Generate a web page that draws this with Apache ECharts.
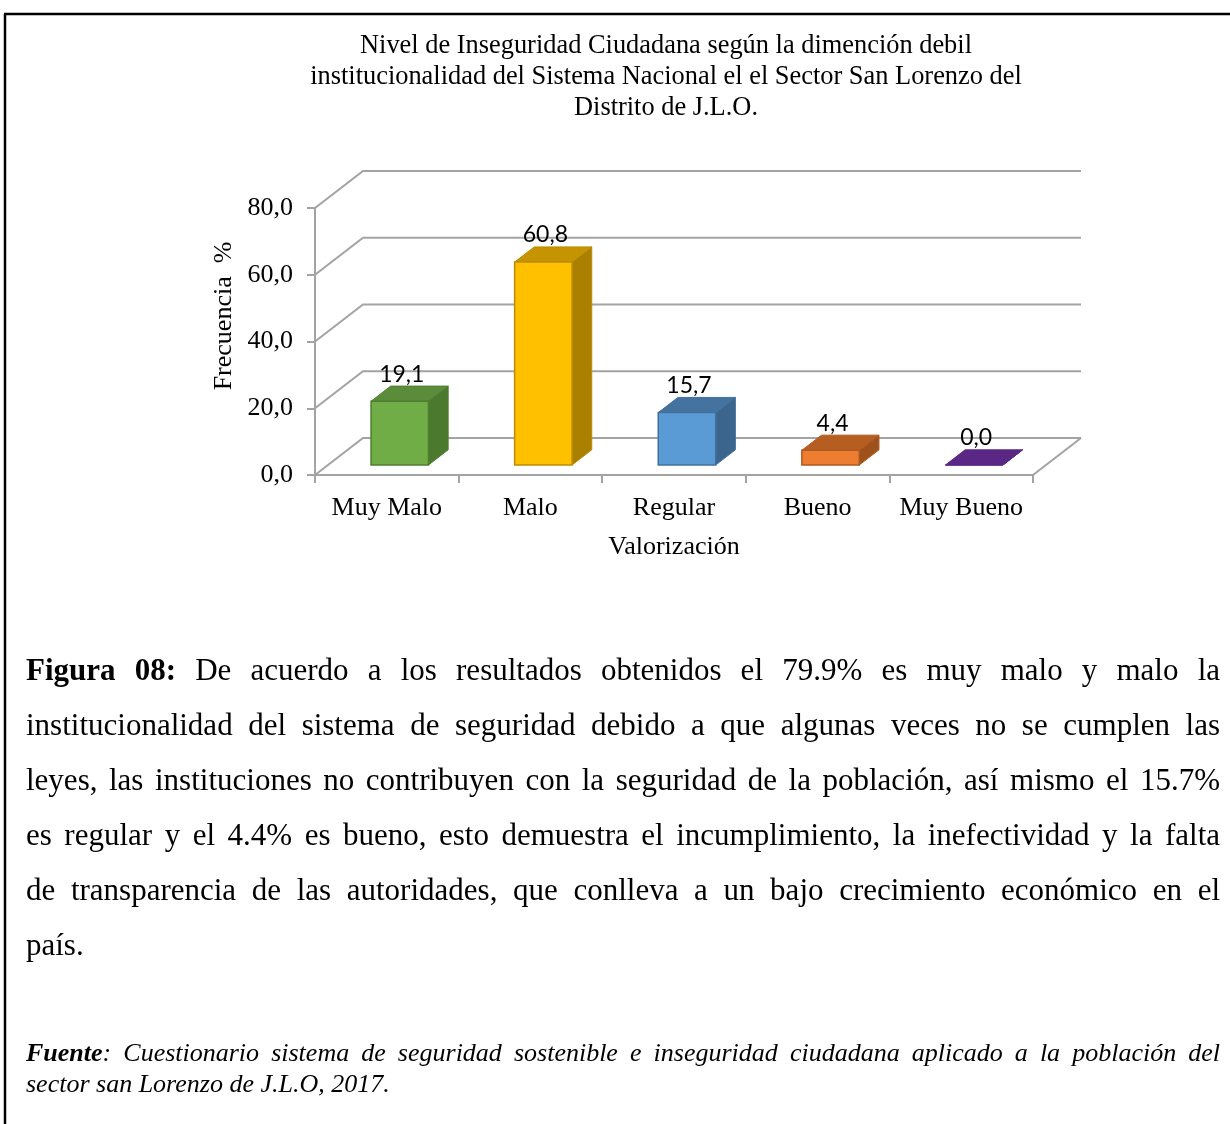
<!DOCTYPE html>
<html><head><meta charset="utf-8">
<script src="https://cdn.jsdelivr.net/npm/echarts@6/dist/echarts.min.js"></script>
<style>html,body{margin:0;padding:0;background:#fff}#c{width:1230px;height:1124px}</style>
</head><body><div id="c"></div>
<script>
// ---- data ----
const categories = ['Muy Malo', 'Malo', 'Regular', 'Bueno', 'Muy Bueno'];
const values = [19.1, 60.8, 15.7, 4.4, 0.0];
const yTicks = [0, 20, 40, 60, 80];
const titleLines = [
  'Nivel de Inseguridad Ciudadana según la dimención debil',
  'institucionalidad del Sistema Nacional el el Sector San Lorenzo del',
  'Distrito de J.L.O.'
];
const yAxisName = 'Frecuencia  %';
const xAxisName = 'Valorización';
const paragraphLines = [
  '**Figura 08:** De acuerdo a los resultados obtenidos el 79.9% es muy malo y malo la',
  'institucionalidad del sistema de seguridad debido a que algunas veces no se cumplen las',
  'leyes, las instituciones no contribuyen con la seguridad de la población, así mismo el 15.7%',
  'es regular y el 4.4% es bueno, esto demuestra el incumplimiento, la inefectividad y la falta',
  'de transparencia de las autoridades, que conlleva a un bajo crecimiento económico en el',
  'país.'
];
const sourceLines = [
  '**Fuente**: Cuestionario sistema de seguridad sostenible e inseguridad ciudadana aplicado a la población del',
  'sector san Lorenzo de J.L.O, 2017.'
];

// ---- styles ----
const SERIF = '"Liberation Serif", "Times New Roman", serif';
const SANS = 'Lato, "Liberation Sans", sans-serif';
const GRID = '#a3a3a3';
const DX = 48, DY = -37;       // depth projection of the 3D box
const Z0 = 0.27, Z1 = 0.68;    // bar depth range
const faceColors = ['#70ad47', '#ffc000', '#5b9bd5', '#ed7d31', '#7030a0'];
const topColors  = ['#5a8c39', '#c59400', '#44739f', '#b65d22', '#5a2785'];
const sideColors = ['#4b7a2e', '#a98000', '#3b658d', '#9f511c', '#4c1f70'];
const edgeColors = ['#507e32', '#bc8c00', '#41719c', '#ae5a21', '#5a2785'];

const fmt = v => v.toFixed(1).replace('.', ',');

// ---- justified text helper ----
const ctx = document.createElement('canvas').getContext('2d');
function fontStr(italic, bold, size) {
  return (italic ? 'italic ' : '') + (bold ? 'bold ' : '') + size + 'px ' + SERIF;
}
function layoutLine(line, y, x0, x1, size, italic, justify, out) {
  const words = []; let bold = false, cur = [], buf = '';
  const flush = () => { if (buf) { cur.push({ t: buf, b: bold }); buf = ''; } };
  for (let k = 0; k < line.length; k++) {
    if (line.substr(k, 2) === '**') { flush(); bold = !bold; k++; continue; }
    const ch = line[k];
    if (ch === ' ') { flush(); if (cur.length) { words.push(cur); cur = []; } continue; }
    buf += ch;
  }
  flush(); if (cur.length) words.push(cur);
  let total = 0;
  words.forEach(w => {
    w.width = 0;
    w.forEach(p => { ctx.font = fontStr(italic, p.b, size); p.w = ctx.measureText(p.t).width; w.width += p.w; });
    total += w.width;
  });
  ctx.font = fontStr(italic, false, size);
  const sp = ctx.measureText(' ').width;
  const gap = (justify && words.length > 1) ? (x1 - x0 - total) / (words.length - 1) : sp;
  let x = x0;
  words.forEach(w => {
    w.forEach(p => {
      out.push({ type: 'text', x: x, y: y, style: { text: p.t, font: fontStr(italic, p.b, size), fill: '#000', textAlign: 'left', textVerticalAlign: 'middle' } });
      x += p.w;
    });
    x += gap;
  });
}

const graphics = [
  { type: 'line', shape: { x1: 4, y1: 14, x2: 1230, y2: 14 }, style: { stroke: '#000', lineWidth: 2.5 } },
  { type: 'line', shape: { x1: 5, y1: 14, x2: 5, y2: 1124 }, style: { stroke: '#000', lineWidth: 2.5 } }
];
titleLines.forEach((t, i) => graphics.push({
  type: 'text', x: 666, y: 46 + i * 31,
  style: { text: t, font: '26.4px ' + SERIF, fill: '#000', textAlign: 'center', textVerticalAlign: 'middle' }
}));
graphics.push({
  type: 'text', x: 224, y: 316, rotation: Math.PI / 2,
  style: { text: yAxisName, font: '26px ' + SERIF, fill: '#000', textAlign: 'center', textVerticalAlign: 'middle' }
});
paragraphLines.forEach((l, i) => layoutLine(l, 672 + i * 55, 26, 1220, 31, false, i < paragraphLines.length - 1, graphics));
sourceLines.forEach((l, i) => layoutLine(l, 1054 + i * 31, 26, 1220, 26, true, i < sourceLines.length - 1, graphics));

const chart = echarts.init(document.getElementById('c'), null, { renderer: 'canvas' });
chart.setOption({
  animation: false,
  backgroundColor: '#fff',
  grid: { left: 315, top: 208, width: 718, height: 267 },
  xAxis: {
    type: 'category', data: categories, boundaryGap: true,
    axisLine: { show: true, lineStyle: { color: GRID, width: 2 } },
    axisTick: { show: true, length: 8, interval: 0, lineStyle: { color: GRID, width: 2 } },
    axisLabel: { color: '#000', fontFamily: SERIF, fontSize: 26, margin: 20, interval: 0, hideOverlap: false },
    splitLine: { show: false },
    name: xAxisName, nameLocation: 'middle', nameGap: 59,
    nameTextStyle: { color: '#000', fontFamily: SERIF, fontSize: 26 }
  },
  yAxis: {
    type: 'value', min: 0, max: 80, interval: 20,
    axisLine: { show: true, lineStyle: { color: GRID, width: 2 } },
    axisTick: { show: true, length: 8, lineStyle: { color: GRID, width: 2 } },
    axisLabel: { color: '#000', fontFamily: SERIF, fontSize: 26, margin: 22, formatter: fmt },
    splitLine: { show: false }
  },
  series: [
    {
      type: 'custom', z: 1, silent: true, clip: false,
      data: yTicks.map(v => [0, v]),
      renderItem(params, api) {
        const v = api.value(1);
        const cs = params.coordSys;
        const y = api.coord([0, v])[1];
        const l = cs.x, r = cs.x + cs.width;
        const children = [{
          type: 'polyline',
          shape: { points: [[l, y], [l + DX, y + DY], [r + DX, y + DY]] },
          style: { stroke: GRID, lineWidth: 2, fill: null }
        }];
        if (v === 0) children.push({ type: 'line', shape: { x1: r, y1: y, x2: r + DX, y2: y + DY }, style: { stroke: GRID, lineWidth: 2 } });
        return { type: 'group', children };
      }
    },
    {
      type: 'custom', z: 3, clip: false,
      data: values.map((v, i) => [i, v]),
      renderItem(params, api) {
        const i = api.value(0), v = api.value(1);
        const base = api.coord([i, 0]);
        const top = api.coord([i, v]);
        const band = api.size([1, 0])[0];
        const w = band * 0.40;
        const fx = base[0] + DX * Z0 - w / 2;
        const fy0 = base[1] + DY * Z0;
        const fy1 = top[1] + DY * Z0;
        const ddx = DX * (Z1 - Z0), ddy = DY * (Z1 - Z0);
        const k = params.dataIndex;
        return {
          type: 'group', children: [
            { type: 'polygon', shape: { points: [[fx + w, fy0], [fx + w, fy1], [fx + w + ddx, fy1 + ddy], [fx + w + ddx, fy0 + ddy]] },
              style: { fill: sideColors[k], stroke: edgeColors[k], lineWidth: 1 } },
            { type: 'polygon', shape: { points: [[fx, fy1], [fx + w, fy1], [fx + w + ddx, fy1 + ddy], [fx + ddx, fy1 + ddy]] },
              style: { fill: topColors[k], stroke: edgeColors[k], lineWidth: 1 } },
            { type: 'rect', shape: { x: fx, y: fy1, width: w, height: fy0 - fy1 },
              style: { fill: faceColors[k], stroke: edgeColors[k], lineWidth: 1.5 } },
            { type: 'text', x: fx + w / 2 + 2, y: fy1 + ddy - 12,
              style: { text: fmt(v), font: '23px ' + SANS, fill: '#000', textAlign: 'center', textVerticalAlign: 'middle' } }
          ]
        };
      }
    }
  ],
  graphic: graphics
});
</script></body></html>
